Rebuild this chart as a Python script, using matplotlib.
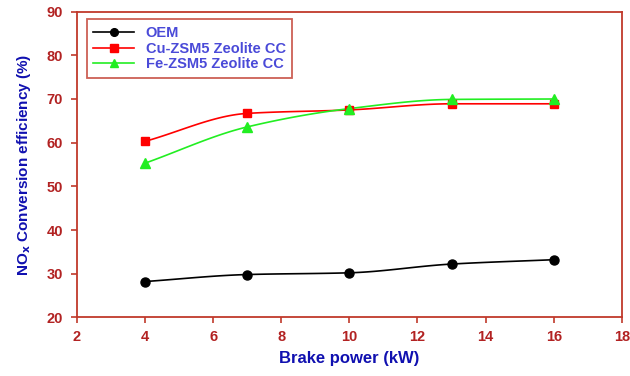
import numpy as np
import matplotlib
matplotlib.use("Agg")
import matplotlib.pyplot as plt

# data
power = [4, 7, 10, 13, 16]
oem = [28.2, 29.8, 30.2, 32.2, 33.2]
cu_zsm5 = [60.3, 66.7, 67.5, 68.9, 68.9]
fe_zsm5 = [55.3, 63.6, 67.8, 69.9, 70.0]

xticks = [2, 4, 6, 8, 10, 12, 14, 16, 18]
yticks = [20, 30, 40, 50, 60, 70, 80, 90]

RED = "#c0392b"
TICK = "#b22222"
BLUE = "#1010b0"


def smooth(x, y, n=30):
    """Monotone cubic (Fritsch-Carlson) curve through the points, for the line only."""
    x = np.asarray(x, float)
    y = np.asarray(y, float)
    h = np.diff(x)
    d = np.diff(y) / h
    m = np.zeros_like(y)
    m[0], m[-1] = d[0], d[-1]
    for i in range(1, len(y) - 1):
        if d[i - 1] * d[i] <= 0:
            m[i] = 0
        else:
            w1 = 2 * h[i] + h[i - 1]
            w2 = h[i] + 2 * h[i - 1]
            m[i] = (w1 + w2) / (w1 / d[i - 1] + w2 / d[i])
    xs, ys = [], []
    for i in range(len(h)):
        t = np.linspace(0, 1, n)
        h00 = 2 * t**3 - 3 * t**2 + 1
        h10 = t**3 - 2 * t**2 + t
        h01 = -2 * t**3 + 3 * t**2
        h11 = t**3 - t**2
        xs.append(x[i] + t * h[i])
        ys.append(h00 * y[i] + h10 * h[i] * m[i] + h01 * y[i + 1] + h11 * h[i] * m[i + 1])
    return np.concatenate(xs), np.concatenate(ys)


plt.rcParams["font.family"] = ["Liberation Sans", "DejaVu Sans"]

fig = plt.figure(figsize=(6.3, 3.76), dpi=100, facecolor="white")
ax = fig.add_axes([0.122, 0.156, 0.865, 0.813])

series = [
    (oem, "OEM", "black", "o", 6.5),
    (cu_zsm5, "Cu-ZSM5 Zeolite CC", "#ff0000", "s", 6),
    (fe_zsm5, "Fe-ZSM5 Zeolite CC", "#22ee22", "^", 6.5),
]
handles = []
for vals, label, color, marker, ms in series:
    sx, sy = smooth(power, vals)
    ax.plot(sx, sy, color=color, lw=1.2, zorder=2)
    ax.plot(power, vals, linestyle="none", marker=marker, color=color, ms=ms, zorder=3)
    h, = ax.plot([], [], color=color, lw=1.2, marker=marker, ms=ms * 0.85, label=label)
    handles.append(h)

ax.set_xlim(2, 18)
ax.set_ylim(20, 90)
ax.set_xticks(xticks)
ax.set_yticks(yticks)

for sp in ax.spines.values():
    sp.set_color(RED)
    sp.set_linewidth(1.3)
ax.tick_params(colors=RED, length=4, width=1.2, labelsize=10.5)
for lab in ax.get_xticklabels() + ax.get_yticklabels():
    lab.set_color(TICK)
    lab.set_fontweight("bold")
ax.tick_params(axis="x", pad=5)
ax.tick_params(axis="y", pad=6)

ax.set_xlabel("Brake power (kW)", color=BLUE, fontsize=12, fontweight="bold", labelpad=5)
ax.set_ylabel("NO$_\\mathbf{x}$ Conversion efficiency (%)", color=BLUE, fontsize=11,
              fontweight="bold", labelpad=10)

leg = ax.legend(handles=handles, loc="upper left", bbox_to_anchor=(0.018, 0.975),
                prop={"size": 10.5, "weight": "bold"}, frameon=True, fancybox=False,
                borderpad=0.45, handlelength=2.8, labelspacing=0.12, borderaxespad=0)
leg.get_frame().set_edgecolor(RED)
leg.get_frame().set_linewidth(1.3)
for t in leg.get_texts():
    t.set_color("#4a4ad8")

fig.savefig("out.png", dpi=100, facecolor="white")
